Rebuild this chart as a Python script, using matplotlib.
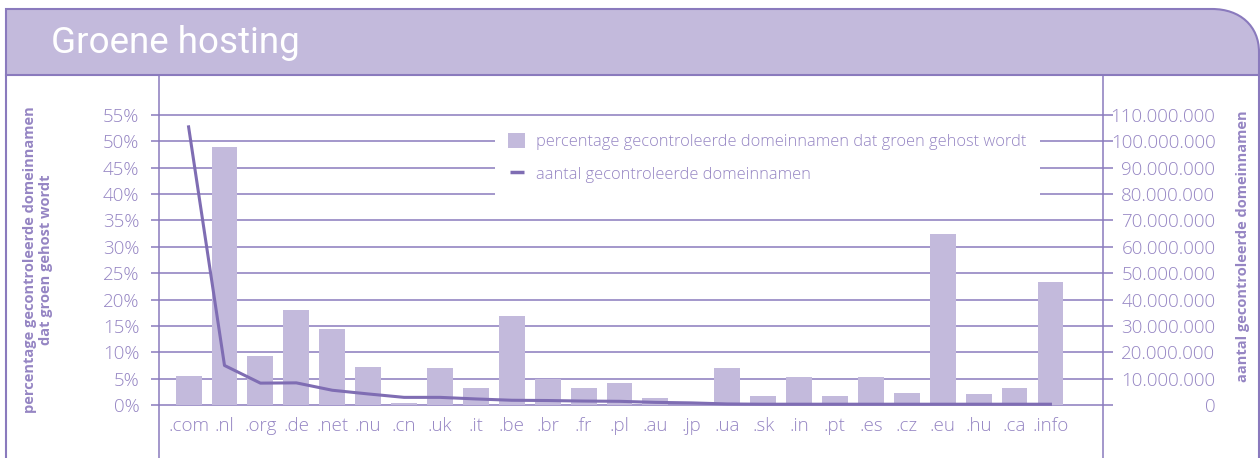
import matplotlib.pyplot as plt
from matplotlib.path import Path
from matplotlib.patches import PathPatch, Patch
from matplotlib.lines import Line2D

# data
domains = [".com", ".nl", ".org", ".de", ".net", ".nu", ".cn", ".uk", ".it", ".be",
           ".br", ".fr", ".pl", ".au", ".jp", ".ua", ".sk", ".in", ".pt", ".es",
           ".cz", ".eu", ".hu", ".ca", ".info"]
green_pct = [5.5, 48.9, 9.3, 18.1, 14.5, 7.2, 0.3, 7.0, 3.2, 16.9,
             4.9, 3.2, 4.1, 1.3, 0.0, 7.0, 1.8, 5.3, 1.8, 5.3,
             2.3, 32.4, 2.1, 3.2, 23.3]
checked_mln = [105.5, 15.0, 8.3, 8.4, 5.6, 4.2, 2.9, 2.9, 2.3, 1.8,
               1.7, 1.5, 1.4, 1.0, 0.8, 0.4, 0.3, 0.3, 0.3, 0.3,
               0.3, 0.3, 0.3, 0.3, 0.3]
pct_ticks = list(range(0, 60, 5))
count_ticks = list(range(0, 120, 10))

header_col = "#c3badc"
line_col = "#8a7abd"
text_col = "#9585c3"
series_col = "#7f6db3"

W, H = 1260, 458
fig = plt.figure(figsize=(W / 100, H / 100), dpi=100)

def fx(x):
    return x / W

def fy(y):
    return 1 - y / H

# header band with the rounded top right corner
hdr = Path([(fx(6), fy(75)), (fx(6), fy(9)), (fx(1212), fy(9)),
            (fx(1240), fy(9)), (fx(1259), fy(26)), (fx(1259), fy(52)),
            (fx(1259), fy(75)), (fx(6), fy(75))],
           [Path.MOVETO, Path.LINETO, Path.LINETO, Path.CURVE4, Path.CURVE4, Path.CURVE4,
            Path.LINETO, Path.CLOSEPOLY])
fig.patches.append(PathPatch(hdr, facecolor=header_col, edgecolor="none", transform=fig.transFigure))
frame = Path([(fx(6), fy(458)), (fx(6), fy(9)), (fx(1212), fy(9)),
              (fx(1240), fy(9)), (fx(1259), fy(26)), (fx(1259), fy(52)),
              (fx(1259), fy(458))],
             [Path.MOVETO, Path.LINETO, Path.LINETO, Path.CURVE4, Path.CURVE4, Path.CURVE4,
              Path.LINETO])
fig.patches.append(PathPatch(frame, facecolor="none", edgecolor=line_col, lw=1.5, transform=fig.transFigure))
fig.lines.append(Line2D([fx(6), fx(1259)], [fy(75), fy(75)], color=line_col, lw=1.5, transform=fig.transFigure))

fig.text(fx(51), fy(43), "Groene hosting", color="white", fontsize=26.5, family="Roboto", va="center")

# plot area: left spine at x=159, right spine at x=1103, from y=75 down to the bottom
ax = fig.add_axes([fx(159), 0, fx(1103) - fx(159), fy(75)])
ax.set_xlim(-0.824, 25.464)
ax.set_ylim(-10.05, 62.59)
ax.set_axisbelow(True)
ax.bar(range(len(domains)), green_pct, width=0.72, color=header_col, zorder=2)

ax.set_yticks(pct_ticks)
ax.set_yticklabels([str(t) + "%" for t in pct_ticks])
ax.yaxis.grid(True, color=line_col, lw=1.1)
ax.set_xticks([])
ax.tick_params(axis="y", colors=line_col, labelcolor=text_col, length=6, width=1.1, pad=8, labelsize=13.5)
for s in ["top", "bottom"]:
    ax.spines[s].set_visible(False)
for s in ["left", "right"]:
    ax.spines[s].set_color(line_col)
    ax.spines[s].set_linewidth(1.1)
for lab in ax.get_yticklabels():
    lab.set_family("Open Sans")
    lab.set_fontweight("light")

# category labels under the bars
for i, d in enumerate(domains):
    ax.text(i, -3.9, d, ha="center", va="center", color=text_col, fontsize=13.5,
            family="Open Sans", fontweight="light")

ax2 = ax.twinx()
ax2.set_ylim(-20.1, 125.17)
ax2.plot(range(len(domains)), checked_mln, color=series_col, lw=2.2, zorder=3)
ax2.set_yticks(count_ticks)
ax2.set_yticklabels(["{:,}".format(t * 1000000).replace(",", ".") for t in count_ticks])
ax2.tick_params(axis="y", colors=line_col, labelcolor=text_col, length=7, width=1.1, pad=74, labelsize=13.5)
for lab in ax2.get_yticklabels():
    lab.set_ha("right")
    lab.set_family("Open Sans")
    lab.set_fontweight("light")
for s in ["top", "bottom", "left", "right"]:
    ax2.spines[s].set_visible(False)

fig.text(fx(38), fy(260), "percentage gecontroleerde domeinnamen\ndat groen gehost wordt",
         rotation=90, ha="center", va="center", color=text_col, fontsize=10.5, fontweight="bold",
         family="Open Sans", linespacing=1.15)
fig.text(fx(1243), fy(246), "aantal gecontroleerde domeinnamen", rotation=90, ha="center", va="center",
         color=text_col, fontsize=10.5, fontweight="bold", family="Open Sans")

handles = [Patch(facecolor=header_col, edgecolor="none"),
           Line2D([], [], ls="none", marker="_", ms=10, mew=2.5, color=series_col)]
labels = ["percentage gecontroleerde domeinnamen dat groen gehost wordt",
          "aantal gecontroleerde domeinnamen"]
leg = ax2.legend(handles, labels, loc="upper left", bbox_to_anchor=(0.3475, 0.903),
                 frameon=True, fancybox=False, framealpha=1, edgecolor="none",
                 handlelength=1.0, handleheight=1.0, handletextpad=0.7, labelspacing=0.95,
                 borderpad=0.8, prop={"family": "Open Sans", "size": 11.8, "weight": "light"})
for t in leg.get_texts():
    t.set_color(text_col)

fig.savefig("out.png", dpi=100)
